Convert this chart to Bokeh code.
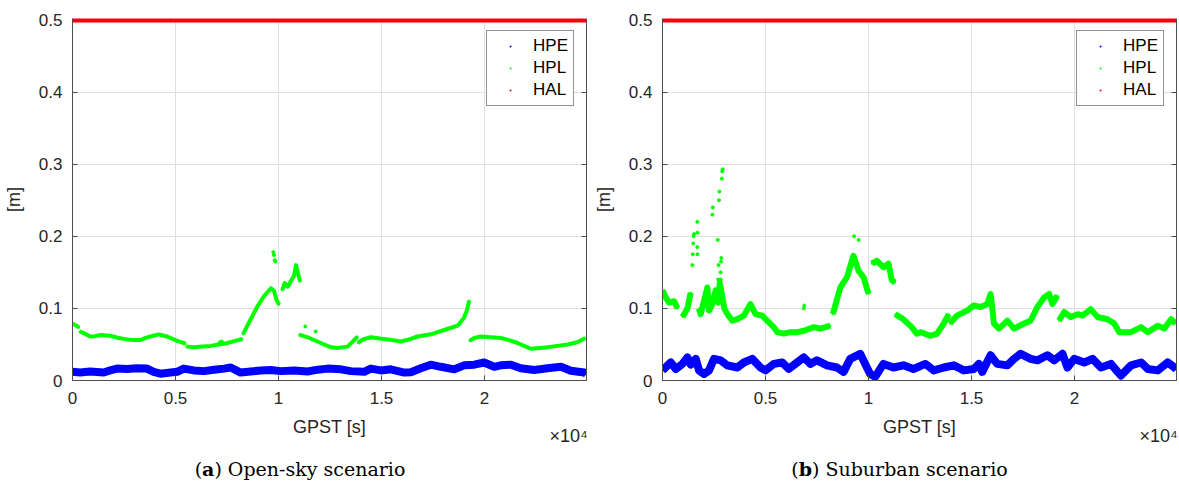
from bokeh.plotting import figure
from bokeh.models import Range1d, LinearAxis, Legend, LegendItem, FixedTicker, Div
from bokeh.layouts import row, column
from bokeh.embed import file_html
from bokeh.resources import INLINE

NaN = float("nan")

# ---------------- shared axis data ----------------
x_ticks = [0, 5000, 10000, 15000, 20000]
x_tick_labels = ["0", "0.5", "1", "1.5", "2"]
y_ticks = [0, 0.1, 0.2, 0.3, 0.4, 0.5]
series_names = ["HPE", "HPL", "HAL"]
x_label = "GPST [s]"
x_scale_label = "\u00d710\u2074"
y_label = "[m]"
gpst_end = 24950
hal_t = [0, 24950]
hal = [0.5, 0.5]

# ---------------- (a) Open-sky ----------------
a_hpe_t = [0, 373, 860, 1510, 1830, 2160, 2650, 3130, 3620, 3940,
           4270, 4760, 5080, 5400, 5890, 6380, 6870, 7350, 7680, 8160,
           8650, 9140, 9620, 10110, 10760, 11410, 11900, 12380, 13030, 13510,
           14160, 14480, 14970, 15450, 16100, 16420, 16910, 17390, 17880, 18530,
           19010, 19500, 19980, 20470, 20790, 21280, 21760, 22410, 23060, 23710,
           24190, 24840, 24940]
a_hpe = [.012, .011, .0125, .011, .014, .0165, .016, .017, .0165, .012,
         .0095, .011, .012, .0165, .014, .013, .015, .0165, .018, .011,
         .0125, .014, .0145, .013, .014, .0125, .015, .0165, .0155, .013,
         .012, .0165, .014, .0155, .011, .0115, .017, .022, .019, .0155,
         .021, .022, .025, .019, .021, .022, .017, .0145, .017, .019,
         .0135, .011, .009]

a_hpl_t = [0, 200, 320, NaN,
           350, 600, 860, 1100, 1350, 1830, 2250, 2650, 3000, 3300, 3550, 3780, 4190, 4590, 5080, 5490, NaN,
           5520, 5890, 6300, 6700, 7100, 7520, 7900, 8250, NaN,
           8280, 8450, 8650, 8980, 9300, 9630, 9790, 9900, 10030, NaN,
           10180, 10300, 10450, 10600, 10750, 10850, 10950, 11050, NaN,
           11000, 11500, 12050, 12550, 12860, 13350, 13600, 13835, NaN,
           13850, 14100, 14480, 15290, 15940, 16350, 16750, 17400, 18040, 18690, 19010, 19150, 19260, NaN,
           19270, 19500, 19820, 20300, 20790, 21200, 21600, 22000, 22250, 22700, 23060, 23550, 24030, 24500, 24900]
a_hpl = [.079, .076, .073, NaN,
         .068, .065, .061, .0615, .063, .062, .059, .057, .056, .056, .059, .061, .064, .061, .055, .051, NaN,
         .047, .046, .047, .048, .050, .052, .055, .0575, NaN,
         .064, .074, .085, .103, .117, .128, .124, .112, .105, NaN,
         .125, .135, .13, .138, .145, .16, .148, .137, NaN,
         .0635, .059, .052, .046, .045, .047, .054, .061, NaN,
         .052, .057, .060, .057, .054, .057, .061, .064, .070, .076, .087, .098, .111, NaN,
         .055, .059, .061, .060, .059, .056, .052, .047, .044, .045, .046, .048, .050, .053, .059]
a_out_t = [9750, 9780, 9820, 9850, 11300, 11800, 7150, 7250]
a_out = [.178, .174, .167, .165, .075, .068, .053, .054]

# ---------------- (b) Suburban ----------------
b_hpe_t = [0, 403, 645, 968, 1210, 1371, 1613, 1774, 2016, 2258,
           2500, 2823, 3145, 3629, 3952, 4355, 4758, 5000, 5404, 5807,
           6129, 6533, 6855, 7178, 7500, 7984, 8468, 8790, 9113, 9597,
           9839, 10081, 10323, 10726, 11210, 11694, 12178, 12760, 13166, 13653,
           14140, 14627, 15114, 15357, 15519, 15925, 16250, 16737, 17061, 17386,
           17873, 18197, 18684, 19009, 19415, 19658, 19983, 20470, 20875, 21281,
           21768, 22093, 22255, 22742, 23229, 23553, 24040, 24527, 24851, 24940]
b_hpe = [.014, .025, .016, .023, .032, .022, .030, .014, .009, .014,
         .030, .028, .021, .018, .025, .030, .018, .014, .023, .025,
         .016, .025, .032, .023, .028, .021, .018, .012, .030, .037,
         .023, .009, .005, .023, .018, .021, .016, .023, .014, .018,
         .021, .014, .016, .023, .012, .035, .023, .021, .030, .037,
         .030, .028, .035, .028, .037, .018, .030, .025, .030, .018,
         .023, .012, .007, .021, .025, .016, .014, .025, .018, .015]

b_hpl_t = [0, 160, 320, 560, 730, NaN,
           970, 1210, 1370, NaN,
           1770, 1850, 2020, 2180, 2260, 2420, 2580, 2700, 2780, 2880,
           3000, 3150, 3390, 3630, 3950, 4270, 4520, 4840, 5080, 5400,
           5570, 5890, 6210, 6530, 6860, 7340, 7660, 8150, NaN,
           8270, 8630, 8950, 9270, 9520, 9760, 10000, NaN,
           10160, 10400, 10730, 10970, 11130, 11290, NaN,
           11300, 11690, 12100, 12340, 12520, 13000, 13330, 13650, 13900, NaN,
           13950, 14300, 14790, 15110, 15440, 15760, 15930, 16090, 16330, 16740,
           17060, 17550, 17870, 18200, 18520, 18770, 18930, 19170, NaN,
           19250, 19500, 19820, 20150, 20390, 20790, 21120, 21600, 21930, 22170,
           22740, 23230, 23550, 24040, 24360, 24690, 24900]
b_hpl = [.125, .115, .108, .110, .100, NaN,
         .088, .100, .122, NaN,
         .100, .092, .111, .129, .097, .106, .125, .108, .135, .120,
         .100, .092, .083, .085, .090, .106, .092, .090, .083, .074,
         .067, .065, .067, .067, .069, .074, .072, .076, NaN,
         .092, .129, .143, .173, .152, .143, .120, NaN,
         .162, .166, .157, .162, .139, .136, NaN,
         .092, .085, .074, .065, .067, .062, .065, .079, .092, NaN,
         .079, .090, .097, .104, .102, .106, .120, .079, .072, .083,
         .072, .079, .083, .102, .115, .120, .106, .118, NaN,
         .083, .095, .088, .092, .090, .099, .088, .085, .079, .067,
         .067, .074, .067, .076, .072, .085, .079]
b_out_t = [1450, 1470, 1490, 1510, 1530, 1690, 1700, 1690, 1700, 2420,
           2440, 2740, 2760, 2880, 2900, 2920, 2820, 2840, 2860, 2800,
           2830, 2850, 2680, 9300, 9520, 6860, 6880, 2700, 2720]
b_out = [.16, .175, .19, .2, .203, .22, .205, .185, .175, .23,
         .24, .25, .262, .28, .29, .293, .15, .165, .17, .13,
         .14, .12, .195, .2, .195, .10, .104, .14, .16]

BLUE, GREEN, RED = "#0000ff", "#00ff00", "#ff0000"
TXT = "#262626"
AXC = "#4d4d4d"
GRID = "#dfdfdf"
SANS = "Liberation Sans"
SERIF = "DejaVu Serif"
FIG_H = 448


def panel(hpe_t, hpe, hpl_t, hpl, out_t, out, width, bl, br, hpe_w, hpl_w):
    p = figure(width=width, height=FIG_H, output_backend="svg", toolbar_location=None,
               x_range=Range1d(0, gpst_end), y_range=Range1d(0, 0.502),
               min_border_left=bl, min_border_right=br,
               min_border_top=18, min_border_bottom=FIG_H - 18 - 363)
    p.outline_line_color = None
    p.background_fill_color = "white"
    p.border_fill_color = "white"

    p.xaxis.ticker = FixedTicker(ticks=x_ticks)
    p.xaxis.major_label_overrides = {t: l for t, l in zip(x_ticks, x_tick_labels)}
    p.yaxis.ticker = FixedTicker(ticks=y_ticks)
    p.xaxis.axis_label = x_label
    p.yaxis.axis_label = y_label
    for ax in (p.xaxis[0], p.yaxis[0]):
        ax.major_tick_in = 5
        ax.major_tick_out = 0
        ax.minor_tick_line_color = None
        ax.axis_line_color = AXC
        ax.major_tick_line_color = AXC
        ax.major_label_text_font = SANS
        ax.major_label_text_font_size = "17px"
        ax.major_label_text_color = TXT
        ax.axis_label_text_font = SANS
        ax.axis_label_text_font_size = "18px"
        ax.axis_label_text_font_style = "normal"
        ax.axis_label_text_color = TXT
    p.xaxis.major_label_standoff = 11
    p.xaxis.axis_label_standoff = 10
    p.yaxis.major_label_standoff = 10
    p.yaxis.axis_label_standoff = 12

    # exponent of the x axis, just under the right end of the tick labels
    sc_tick = [gpst_end * 0.965]
    ax2 = LinearAxis(ticker=FixedTicker(ticks=sc_tick),
                     major_label_overrides={sc_tick[0]: x_scale_label},
                     axis_line_color=None, major_tick_line_color=None, minor_tick_line_color=None,
                     major_tick_in=0, major_tick_out=0, major_label_standoff=-14,
                     major_label_text_font=SANS, major_label_text_font_size="18px",
                     major_label_text_color=TXT)
    p.add_layout(ax2, "below")

    ra = LinearAxis(ticker=FixedTicker(ticks=y_ticks),
                    major_label_overrides={t: "" for t in y_ticks},
                    major_tick_in=5, major_tick_out=0, minor_tick_line_color=None,
                    axis_line_color=AXC, major_tick_line_color=AXC, major_label_standoff=0)
    p.add_layout(ra, "right")

    p.xgrid.grid_line_color = GRID
    p.ygrid.grid_line_color = GRID

    p.line(hpe_t, hpe, line_color=BLUE, line_width=hpe_w, line_join="round")
    p.line(hpl_t, hpl, line_color=GREEN, line_width=hpl_w, line_join="round")
    p.scatter(out_t, out, marker="circle", size=3, color=GREEN)
    p.line(hal_t, hal, line_color=RED, line_width=5)

    r_hpe = p.scatter(hpe_t, hpe, marker="dot", size=8, color=BLUE)
    r_hpl = p.scatter(hpl_t, hpl, marker="dot", size=8, color=GREEN)
    r_hal = p.scatter(hal_t, hal, marker="dot", size=8, color=RED)

    legend = Legend(items=[LegendItem(label=n, renderers=[r])
                           for n, r in zip(series_names, [r_hpe, r_hpl, r_hal])],
                    location="top_right", margin=12, padding=5, spacing=2,
                    glyph_width=36, glyph_height=20, label_height=20, label_standoff=5,
                    label_text_font=SANS, label_text_font_size="17px", label_text_color="#000000",
                    border_line_color="#262626", border_line_width=1,
                    background_fill_color="white", background_fill_alpha=1)
    p.add_layout(legend)
    return p


def caption(tag, text, width):
    html = ('<div style="width:%dpx;text-align:center;font-family:\'%s\';font-size:19px;'
            'padding-top:5px;line-height:22px;color:#000;white-space:nowrap">(<b>%s</b>) %s</div>'
            % (width, SERIF, tag, text))
    return Div(text=html, width=width, height=34)


W1, W2 = 590, 589
p1 = panel(a_hpe_t, a_hpe, a_hpl_t, a_hpl, a_out_t, a_out, W1, 72, 4, 8, 4)
p2 = panel(b_hpe_t, b_hpe, b_hpl_t, b_hpl, b_out_t, b_out, W2, 72, 3, 8, 6)

layout = column(row(p1, p2),
                row(caption("a", "Open-sky scenario", W1), caption("b", "Suburban scenario", W2)))
open("out.html", "w").write(file_html(layout, INLINE, "GPST"))
